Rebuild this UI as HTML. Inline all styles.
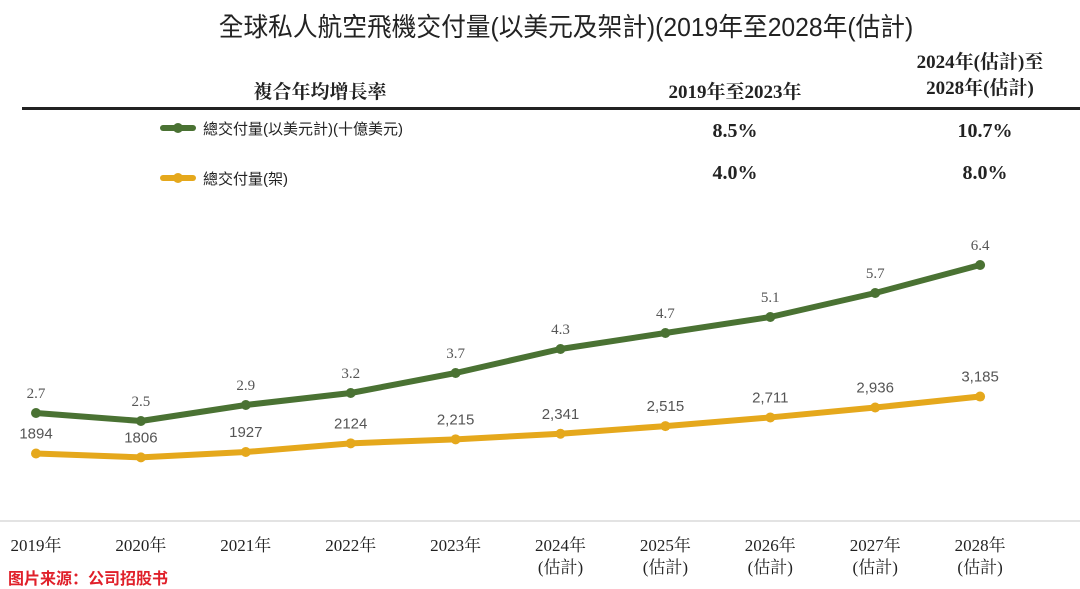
<!DOCTYPE html>
<html><head><meta charset="utf-8">
<style>
body{margin:0;background:#fff;width:1080px;height:588px;overflow:hidden;position:relative;font-family:"Liberation Serif","Noto Serif CJK SC",serif;}
.t{position:absolute;white-space:nowrap;color:#222;}
</style></head>
<body>
<div class="t" style="left:20px;width:1090px;text-align:center;top:7px;font-size:26px;font-family:'Liberation Sans','Noto Sans CJK TC',sans-serif;color:#222;transform:scaleX(0.95);transform-origin:565px 0;">全球私人航空飛機交付量(以美元及架計)(2019年至2028年(估計)</div>
<div class="t" style="left:220px;width:200px;text-align:center;top:77px;font-size:19px;font-weight:bold;">複合年均增長率</div>
<div class="t" style="left:635px;width:200px;text-align:center;top:77px;font-size:19px;font-weight:bold;">2019年至2023年</div>
<div class="t" style="left:880px;width:200px;text-align:center;top:50px;font-size:19px;font-weight:bold;line-height:26px;">2024年(估計)至<br>2028年(估計)</div>
<div style="position:absolute;left:22px;top:107px;width:1058px;height:3px;background:#222;"></div>
<div style="position:absolute;left:160px;top:125px;width:36px;height:6px;background:#4a7233;border-radius:3px;"></div>
<div style="position:absolute;left:173px;top:123px;width:10px;height:10px;background:#4a7233;border-radius:50%;"></div>
<div class="t" style="left:203px;top:118px;font-size:15px;font-family:'Liberation Sans','Noto Sans CJK TC',sans-serif;">總交付量(以美元計)(十億美元)</div>
<div style="position:absolute;left:160px;top:175px;width:36px;height:6px;background:#e5a81c;border-radius:3px;"></div>
<div style="position:absolute;left:173px;top:173px;width:10px;height:10px;background:#e5a81c;border-radius:50%;"></div>
<div class="t" style="left:203px;top:168px;font-size:15px;font-family:'Liberation Sans','Noto Sans CJK TC',sans-serif;">總交付量(架)</div>
<div class="t" style="left:685px;width:100px;text-align:center;top:120px;font-size:20px;font-weight:bold;">8.5%</div>
<div class="t" style="left:935px;width:100px;text-align:center;top:120px;font-size:20px;font-weight:bold;">10.7%</div>
<div class="t" style="left:685px;width:100px;text-align:center;top:162px;font-size:20px;font-weight:bold;">4.0%</div>
<div class="t" style="left:935px;width:100px;text-align:center;top:162px;font-size:20px;font-weight:bold;">8.0%</div>
<svg id="chart" width="1080" height="588" style="position:absolute;left:0;top:0;"></svg>
<div class="t" style="left:8px;top:565px;font-size:16px;font-weight:bold;color:#e0202a;font-family:'Liberation Sans','Noto Sans CJK SC',sans-serif;">图片来源：公司招股书</div>
<script>
const years=["2019年","2020年","2021年","2022年","2023年","2024年","2025年","2026年","2027年","2028年"];
const estimated=[false,false,false,false,false,true,true,true,true,true];
const valueUsd=[2.7,2.5,2.9,3.2,3.7,4.3,4.7,5.1,5.7,6.4];
const valueLabels=["2.7","2.5","2.9","3.2","3.7","4.3","4.7","5.1","5.7","6.4"];
const units=[1894,1806,1927,2124,2215,2341,2515,2711,2936,3185];
const unitLabels=["1894","1806","1927","2124","2,215","2,341","2,515","2,711","2,936","3,185"];
const NS="http://www.w3.org/2000/svg";
const svg=document.getElementById('chart');
const x=i=>36+i*104.9;
const yG=v=>521-v*40;
const yY=v=>537-v*0.0441;
function mk(t,a){const e=document.createElementNS(NS,t);for(const k in a)e.setAttribute(k,a[k]);svg.appendChild(e);return e;}
const ax=mk('line',{x1:0,x2:1080,y1:521,y2:521,stroke:'#e3e3e3','stroke-width':2});


function series(vals,labels,yf,color,name,font){
  const p=mk('polyline',{points:vals.map((v,i)=>x(i)+','+yf(v)).join(' '),fill:'none',stroke:color,'stroke-width':6,'stroke-linejoin':'round','stroke-linecap':'round'});
  
  
  vals.forEach((v,i)=>{
    const c=mk('circle',{cx:x(i),cy:yf(v),r:5,fill:color});
    
    
    const t=mk('text',{x:x(i),y:yf(v)-15,'text-anchor':'middle','font-size':15,fill:'#555','font-family':font});
    t.textContent=labels[i];
    
    
  });
}
series(valueUsd,valueLabels,yG,'#4a7233','value-usd',"'Liberation Serif',serif");
series(units,unitLabels,yY,'#e5a81c','units',"'Liberation Sans',sans-serif");
years.forEach((y,i)=>{
  const t=mk('text',{x:x(i),y:551,'text-anchor':'middle','font-size':17,fill:'#222','font-family':"'Liberation Serif','Noto Serif CJK SC',serif"});
  t.textContent=y;
  
  
  if(estimated[i]){
    const e=mk('text',{x:x(i),y:573,'text-anchor':'middle','font-size':17,fill:'#222','font-family':"'Liberation Serif','Noto Serif CJK SC',serif"});
    e.textContent='(估計)';
    
    
  }
});
</script>
</body></html>
